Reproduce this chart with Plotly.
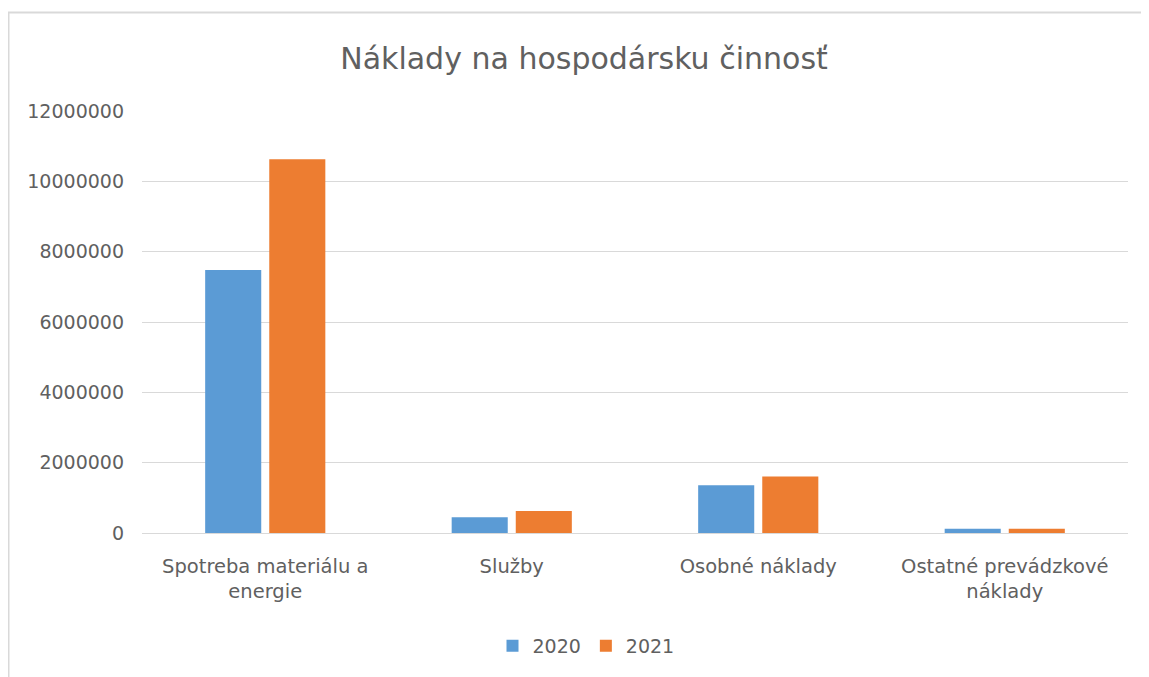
import plotly.graph_objects as go

categories = ["Spotreba materiálu a<br>energie", "Služby", "Osobné náklady", "Ostatné prevádzkové<br>náklady"]
series_names = ["2020", "2021"]
values_2020 = [7480000, 446000, 1356000, 120000]
values_2021 = [10630000, 626000, 1610000, 120000]
colors = ["#5B9BD5", "#ED7D31"]
y_ticks = [0, 2000000, 4000000, 6000000, 8000000, 10000000, 12000000]

FONT = "DejaVu Sans"
GRAY = "#606060"

fig = go.Figure()
for name, vals, col in zip(series_names, [values_2020, values_2021], colors):
    fig.add_trace(go.Bar(x=categories, y=vals, name=name, marker=dict(color=col, line=dict(width=0))))

# page body has 8px margin; work in figure coordinates (page - 8)
W, H = 1141, 669
L, R, T, B = 134, 21, 103, 144
pw, ph = W - L - R, H - T - B

def px(x):
    return (x - L) / pw

def py(y):
    return (H - B - y) / ph

fig.update_layout(
    width=W, height=H,
    margin=dict(l=L, r=R, t=T, b=B, autoexpand=False),
    paper_bgcolor="white", plot_bgcolor="white",
    barmode="group", bargap=0.48, bargroupgap=0.125,
    font=dict(family=FONT, color=GRAY, size=18),
    title=dict(text="Náklady na hospodársku činnosť", x=576 / W, xanchor="center",
               y=1 - 50 / H, yanchor="middle", font=dict(family=FONT, size=30, color=GRAY)),
    legend=dict(orientation="h", x=px(578), xanchor="center", y=py(638), yanchor="middle",
                font=dict(size=19, color=GRAY), itemwidth=30, traceorder="normal"),
    xaxis=dict(showgrid=False, showline=False, ticks="", ticklabelstandoff=19,
               tickfont=dict(size=19.5, color=GRAY)),
    yaxis=dict(range=[0, 12000000], tickvals=y_ticks, ticktext=[str(v) for v in y_ticks],
               showgrid=True, gridcolor="#D9D9D9", gridwidth=1, zeroline=True,
               zerolinecolor="#D9D9D9", zerolinewidth=1, ticks="", ticklabelstandoff=17,
               tickfont=dict(size=19, color=GRAY)),
    shapes=[
        dict(type="line", xref="paper", yref="paper", x0=px(0), x1=px(1160), y0=py(4.5), y1=py(4.5),
             line=dict(color="#D9D9D9", width=2)),
        dict(type="line", xref="paper", yref="paper", x0=px(0.5), x1=px(0.5), y0=py(4), y1=py(690),
             line=dict(color="#D9D9D9", width=2)),
    ],
)

fig.write_html("out.html")
